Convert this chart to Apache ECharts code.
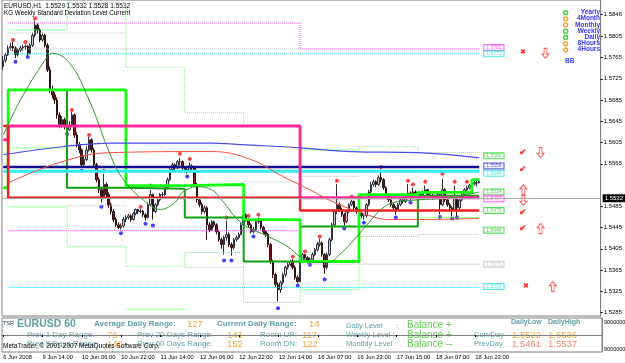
<!DOCTYPE html>
<html>
<head>
<meta charset="utf-8">
<title>EURUSD,H1</title>
<script src="https://cdn.jsdelivr.net/npm/echarts@6/dist/echarts.min.js"></script>
<style>
html, body { margin: 0; padding: 0; background: #fff; }
#chart { width: 625px; height: 363px; }
</style>
</head>
<body>
<div id="chart"></div>
<script>
// H1 bars from 6 Jun 2008 22:00, [open, close, low, high]
const bars = [
  [1.5748,1.5760,1.5742,1.5768],[1.5760,1.5770,1.5755,1.5774],[1.5770,1.5783,1.5768,1.5788],[1.5783,1.5786,1.5779,1.5792],
  [1.5786,1.5783,1.5777,1.5794],[1.5783,1.5770,1.5764,1.5786],[1.5770,1.5779,1.5767,1.5782],[1.5779,1.5783,1.5775,1.5787],
  [1.5783,1.5785,1.5778,1.5789],[1.5785,1.5786,1.5780,1.5790],[1.5786,1.5772,1.5770,1.5788],[1.5772,1.5788,1.5771,1.5792],
  [1.5788,1.5807,1.5785,1.5812],[1.5807,1.5826,1.5803,1.5835],[1.5826,1.5817,1.5810,1.5829],[1.5817,1.5798,1.5794,1.5820],
  [1.5798,1.5807,1.5795,1.5812],[1.5807,1.5788,1.5784,1.5810],[1.5788,1.5742,1.5738,1.5792],[1.5742,1.5704,1.5698,1.5748],
  [1.5704,1.5695,1.5688,1.5712],[1.5695,1.5685,1.5678,1.5700],[1.5685,1.5657,1.5650,1.5690],[1.5657,1.5638,1.5632,1.5662],
  [1.5638,1.5648,1.5633,1.5655],[1.5648,1.5638,1.5630,1.5652],[1.5638,1.5629,1.5625,1.5642],[1.5629,1.5638,1.5627,1.5645],
  [1.5638,1.5657,1.5635,1.5663],[1.5657,1.5619,1.5614,1.5660],[1.5619,1.5601,1.5596,1.5624],[1.5601,1.5591,1.5585,1.5606],
  [1.5591,1.5563,1.5557,1.5594],[1.5563,1.5573,1.5560,1.5580],[1.5573,1.5591,1.5570,1.5598],[1.5591,1.5610,1.5588,1.5616],
  [1.5610,1.5591,1.5586,1.5613],[1.5591,1.5563,1.5558,1.5595],[1.5563,1.5535,1.5530,1.5567],[1.5535,1.5516,1.5510,1.5540],
  [1.5516,1.5501,1.5492,1.5520],[1.5501,1.5526,1.5498,1.5546],[1.5526,1.5507,1.5502,1.5530],[1.5507,1.5488,1.5482,1.5511],
  [1.5488,1.5475,1.5470,1.5492],[1.5475,1.5460,1.5455,1.5480],[1.5460,1.5450,1.5446,1.5464],[1.5450,1.5445,1.5442,1.5455],
  [1.5445,1.5448,1.5441,1.5453],[1.5448,1.5460,1.5445,1.5465],[1.5460,1.5464,1.5455,1.5468],[1.5464,1.5467,1.5460,1.5471],
  [1.5467,1.5460,1.5456,1.5470],[1.5460,1.5471,1.5458,1.5474],[1.5471,1.5479,1.5468,1.5481],[1.5479,1.5475,1.5470,1.5480],
  [1.5475,1.5476,1.5472,1.5480],[1.5476,1.5469,1.5465,1.5478],[1.5469,1.5464,1.5458,1.5472],[1.5464,1.5488,1.5462,1.5492],
  [1.5488,1.5507,1.5485,1.5516],[1.5507,1.5475,1.5460,1.5509],[1.5475,1.5488,1.5472,1.5491],[1.5488,1.5497,1.5485,1.5500],
  [1.5497,1.5507,1.5494,1.5510],[1.5507,1.5507,1.5501,1.5512],[1.5507,1.5520,1.5504,1.5524],[1.5520,1.5535,1.5517,1.5539],
  [1.5535,1.5554,1.5532,1.5558],[1.5554,1.5563,1.5550,1.5567],[1.5563,1.5557,1.5553,1.5566],[1.5557,1.5569,1.5555,1.5572],
  [1.5569,1.5569,1.5562,1.5576],[1.5569,1.5557,1.5553,1.5571],[1.5557,1.5554,1.5549,1.5560],[1.5554,1.5550,1.5546,1.5558],
  [1.5550,1.5561,1.5548,1.5567],[1.5561,1.5557,1.5552,1.5564],[1.5557,1.5526,1.5522,1.5559],[1.5526,1.5497,1.5492,1.5529],
  [1.5497,1.5488,1.5483,1.5501],[1.5488,1.5475,1.5470,1.5492],[1.5475,1.5482,1.5471,1.5486],[1.5482,1.5450,1.5422,1.5485],
  [1.5450,1.5441,1.5436,1.5455],[1.5441,1.5456,1.5438,1.5459],[1.5456,1.5450,1.5445,1.5458],[1.5450,1.5437,1.5432,1.5453],
  [1.5437,1.5422,1.5418,1.5440],[1.5422,1.5413,1.5405,1.5426],[1.5413,1.5426,1.5394,1.5430],[1.5426,1.5432,1.5420,1.5458],
  [1.5432,1.5413,1.5408,1.5436],[1.5413,1.5407,1.5392,1.5417],[1.5407,1.5422,1.5404,1.5425],[1.5422,1.5426,1.5418,1.5430],
  [1.5426,1.5432,1.5423,1.5436],[1.5432,1.5450,1.5430,1.5454],[1.5450,1.5469,1.5447,1.5472],[1.5469,1.5460,1.5456,1.5472],
  [1.5460,1.5450,1.5446,1.5462],[1.5450,1.5437,1.5434,1.5453],[1.5437,1.5441,1.5434,1.5446],[1.5441,1.5456,1.5438,1.5459],
  [1.5456,1.5460,1.5452,1.5464],[1.5460,1.5445,1.5441,1.5462],[1.5445,1.5437,1.5433,1.5448],[1.5437,1.5432,1.5427,1.5440],
  [1.5432,1.5413,1.5408,1.5435],[1.5413,1.5381,1.5376,1.5416],[1.5381,1.5356,1.5350,1.5384],[1.5356,1.5338,1.5333,1.5360],
  [1.5338,1.5328,1.5306,1.5342],[1.5328,1.5341,1.5322,1.5345],[1.5341,1.5356,1.5338,1.5360],[1.5356,1.5370,1.5352,1.5373],
  [1.5370,1.5375,1.5366,1.5379],[1.5375,1.5381,1.5372,1.5384],[1.5381,1.5370,1.5366,1.5385],[1.5370,1.5351,1.5347,1.5373],
  [1.5351,1.5343,1.5341,1.5355],[1.5343,1.5381,1.5342,1.5384],[1.5381,1.5394,1.5378,1.5397],[1.5394,1.5388,1.5384,1.5395],
  [1.5388,1.5381,1.5377,1.5391],[1.5381,1.5385,1.5380,1.5389],[1.5385,1.5394,1.5383,1.5398],[1.5394,1.5403,1.5391,1.5406],
  [1.5403,1.5413,1.5400,1.5417],[1.5413,1.5416,1.5409,1.5424],[1.5416,1.5394,1.5390,1.5419],[1.5394,1.5370,1.5358,1.5397],
  [1.5370,1.5394,1.5366,1.5398],[1.5394,1.5422,1.5391,1.5426],[1.5422,1.5450,1.5419,1.5454],[1.5450,1.5475,1.5447,1.5479],
  [1.5475,1.5488,1.5470,1.5527],[1.5488,1.5479,1.5474,1.5492],[1.5479,1.5469,1.5465,1.5482],[1.5469,1.5456,1.5449,1.5472],
  [1.5456,1.5475,1.5453,1.5478],[1.5475,1.5488,1.5472,1.5491],[1.5488,1.5494,1.5485,1.5497],[1.5494,1.5482,1.5478,1.5496],
  [1.5482,1.5475,1.5471,1.5485],[1.5475,1.5471,1.5467,1.5479],[1.5471,1.5467,1.5463,1.5474],[1.5467,1.5467,1.5460,1.5470],
  [1.5467,1.5488,1.5464,1.5491],[1.5488,1.5512,1.5485,1.5516],[1.5512,1.5526,1.5509,1.5530],[1.5526,1.5531,1.5522,1.5535],
  [1.5531,1.5526,1.5521,1.5534],[1.5526,1.5539,1.5523,1.5543],[1.5539,1.5535,1.5530,1.5554],[1.5535,1.5520,1.5516,1.5538],
  [1.5520,1.5507,1.5503,1.5523],[1.5507,1.5497,1.5493,1.5510],[1.5497,1.5488,1.5484,1.5500],[1.5488,1.5482,1.5477,1.5491],
  [1.5482,1.5479,1.5469,1.5485],[1.5479,1.5488,1.5476,1.5491],[1.5488,1.5497,1.5485,1.5500],[1.5497,1.5494,1.5490,1.5501],
  [1.5494,1.5501,1.5491,1.5505],[1.5501,1.5510,1.5498,1.5527],[1.5510,1.5503,1.5497,1.5513],[1.5503,1.5512,1.5500,1.5520],
  [1.5512,1.5505,1.5501,1.5515],[1.5505,1.5501,1.5497,1.5508],[1.5501,1.5507,1.5498,1.5510],[1.5507,1.5512,1.5504,1.5515],
  [1.5512,1.5516,1.5509,1.5524],[1.5516,1.5507,1.5503,1.5518],[1.5507,1.5505,1.5501,1.5510],[1.5505,1.5501,1.5497,1.5508],
  [1.5501,1.5503,1.5498,1.5506],[1.5503,1.5507,1.5500,1.5510],[1.5507,1.5488,1.5470,1.5509],[1.5488,1.5516,1.5485,1.5537],
  [1.5516,1.5497,1.5493,1.5519],[1.5497,1.5488,1.5484,1.5500],[1.5488,1.5482,1.5478,1.5491],[1.5482,1.5479,1.5466,1.5485],
  [1.5479,1.5501,1.5476,1.5524],[1.5501,1.5482,1.5461,1.5503],[1.5482,1.5497,1.5479,1.5500],[1.5497,1.5507,1.5494,1.5510],
  [1.5507,1.5516,1.5504,1.5519],[1.5516,1.5520,1.5513,1.5524],[1.5520,1.5524,1.5517,1.5527],[1.5524,1.5527,1.5521,1.5530],
  [1.5527,1.5529,1.5524,1.5532],[1.5529,1.5529,1.5522,1.5536],[1.5529,1.5532,1.5528,1.5532]
];

const timeTicks = [0, 16, 32, 48, 64, 80, 96, 112, 128, 144, 160, 176, 192];
const timeLabels = ['6 Jun 2008', '9 Jun 14:00', '10 Jun 06:00', '10 Jun 22:00', '11 Jun 14:00', '12 Jun 06:00',
  '12 Jun 22:00', '13 Jun 14:00', '16 Jun 07:00', '16 Jun 23:00', '17 Jun 15:00', '18 Jun 07:00', '18 Jun 23:00'];
const priceTicks = [1.5285, 1.5325, 1.5365, 1.5405, 1.5445, 1.5485, 1.5565, 1.5605, 1.5645, 1.5685, 1.5725, 1.5765, 1.5805, 1.5846];
const lastPrice = 1.5532;

// moving averages, [bar, price]
const maBlue = [[0,1.5582],[24,1.5597],[44,1.5604],[85,1.5604],[97,1.5601],[121,1.5595],[142,1.5588],[169,1.5586],[194,1.5576]];
const maRed = [[2,1.5529],[24,1.5569],[44,1.5586],[85,1.5588],[101,1.5573],[114,1.5541],[125,1.5516],[135,1.5492],[146,1.5473],[157,1.5460],[169,1.5460],[194,1.5462]];
const maGreen = [[0,1.5619],[7,1.5685],[17,1.5760],[20,1.5773],[27,1.5755],[35,1.5685],[44,1.5578],[49,1.5535],[57,1.5497],[64,1.5479],
  [70,1.5492],[73,1.5511],[79,1.5522],[85,1.5516],[89,1.5497],[97,1.5454],[108,1.5428],[116,1.5409],[121,1.5390],[127,1.5379],
  [132,1.5379],[138,1.5398],[143,1.5422],[149,1.5454],[154,1.5479],[159,1.5492],[169,1.5497],[182,1.5501],[194,1.5512]];

// fractal points
const fractalUp = [[4,1.5798],[9,1.5794],[13,1.5839],[28,1.5666],[35,1.5619],[41,1.5552],[56,1.5484],[60,1.5524],[72,1.5584],[76,1.5574],
  [91,1.5464],[100,1.5467],[104,1.5469],[118,1.5390],[123,1.5400],[129,1.5428],[136,1.5533],[142,1.5503],[154,1.5559],[165,1.5533],
  [167,1.5526],[172,1.5531],[179,1.5546],[184,1.5531],[189,1.5531]];
const fractalDown = [[5,1.5757],[10,1.5766],[26,1.5621],[32,1.5552],[40,1.5484],[48,1.5434],[58,1.5452],[61,1.5449],[75,1.5541],[90,1.5383],
  [93,1.5383],[102,1.5428],[112,1.5293],[120,1.5336],[125,1.5375],[131,1.5347],[139,1.5443],[147,1.5454],[160,1.5464],[166,1.5492],
  [178,1.5465],[183,1.5462],[185,1.5464]];

// weekly levels, step points [bar, price]
const weekHigh = [[0,1.5610],[2,1.5636],[121,1.5501],[194,1.5501]];
const weekLow = [[0,1.5636],[2,1.5501],[121,1.5477],[194,1.5477]];
const navyLevel = [[0,1.5559],[194,1.5559]];
const cyanLevel = [[0,1.5551],[194,1.5551]];

// daily level pair, step points [bar, price]
const dayBright = [[0,1.5520],[2,1.5704],[50,1.5524],[74,1.5526],[98,1.5460],[121,1.5381],[145,1.5507],[169,1.5511],[191,1.5535],[194,1.5535]];
const dayDark = [[2,1.5704],[26,1.5520],[50,1.5518],[74,1.5464],[98,1.5381],[121,1.5447],[145,1.5447],[169,1.5505],[194,1.5505]];

// bar where each day starts, last entry closes the current day
const dayStarts = [2, 26, 50, 74, 98, 121, 145, 169, 194];
// daily deviation levels, one value per day (null = not drawn)
const dayGreenHi = [1.5817, 1.5868, 1.5747, 1.5661, 1.5638, 1.5591, 1.5597, 1.5586];
const dayGreenMid = [1.5595, null, null, null, null, null, null, 1.5464];
const dayGreenLo = [1.5484, 1.5409, 1.5372, 1.5398, 1.5304, 1.5328, 1.5428, 1.5432];
const dayGreenLo2 = [null, null, 1.5291, null, null, null, null, null];
const dayGrayHi = [1.5811, 1.5811, null, null, 1.5531, 1.5541, null, 1.5548];
const dayGrayLo = [null, 1.5486, null, 1.5370, null, null, null, null];

// weekly deviation levels [bar, price]
const dotCyanHi = [[2,1.5772],[194,1.5772]];
const dotCyanLo = [[2,1.5332],[194,1.5332]];
const dotPinkHi = [[2,1.5830],[121,1.5781],[194,1.5781]];
const dotPinkLo = [[2,1.5439],[121,null]];
const dotGrayWeek = [[2,1.5781],[121,null],[121,1.5376],[194,1.5376]];

// price tags at the right end of the levels [bar, price, text, colour]
const levelTags = [
  [200, 1.5784, '1.5782', '#ff40ff'], [200, 1.5772, '1.5772', '#30e0e0'], [200, 1.5580, '1.5580', '#30d030'],
  [200, 1.5561, '1.5556', '#3030c0'], [200, 1.5547, '1.5546', '#30e0e0'], [200, 1.5512, '1.5514', '#30d030'],
  [200, 1.5499, '1.5497', '#ff40ff'], [200, 1.5477, '1.5479', '#30d030'], [200, 1.5440, '1.5446', '#30d030'],
  [200, 1.5376, '1.5376', '#c0c0c0'], [200, 1.5334, '1.5332', '#30e0e0']
];

// signal glyphs [bar, price]
const checkMarks = [[212,1.5586],[212,1.5554],[212,1.5473],[212,1.5443]];
const crossMarks = [[212,1.5775],[213,1.5334]];
const upArrows = [[212,1.5516],[219,1.5443],[224,1.5334]];
const downArrows = [[221,1.5773],[219,1.5586],[212,1.5496]];

const slots = 244;
const labelAt = {};
timeTicks.forEach((t, k) => { labelAt[t] = timeLabels[k]; });
const cats = [];
for (let i = 0; i < slots; i++) cats.push(String(i));

function daySteps(values) {
  const pts = [];
  values.forEach((v, d) => {
    if (v === null) return;
    pts.push([dayStarts[d], v], [dayStarts[d + 1], v]);
    if (d + 1 >= values.length || values[d + 1] === null) pts.push([dayStarts[d + 1], null]);
  });
  return pts;
}

const chart = echarts.init(document.getElementById('chart'));

function stepLine(name, data, color, width, type) {
  return {
    name: name, type: 'line', data: data, step: 'end', symbol: 'none', silent: true,
    lineStyle: { color: color, width: width, type: type || 'solid' }
  };
}

function smoothLine(name, data, color, width) {
  return {
    name: name, type: 'line', data: data, smooth: 0.4, symbol: 'none', silent: true,
    lineStyle: { color: color, width: width }
  };
}

function glyphSeries(data, text, size) {
  return {
    type: 'scatter', data: data, symbolSize: 0, silent: true,
    label: { show: true, position: 'inside', formatter: text, color: '#ff0000', fontSize: size, fontWeight: 'bold' }
  };
}

const arrowPath = 'path://M5,0 L10,5 L7,5 L7,12 L3,12 L3,5 L0,5 Z';

const font = 'Liberation Sans';
const teal = '#5fa0a8';
const orange = '#f5a640';
const green = '#66cc55';

function txt(x, y, s, color, size, weight) {
  return { type: 'text', left: x, top: y, silent: true,
    style: { text: s, fill: color, font: (weight || 'normal') + ' ' + size + 'px ' + font } };
}

const legendRows = [['Yearly', '#33cc33'], ['4Month', '#ff9a20'], ['Monthly', '#ff9a20'], ['Weekly', '#33cc33'],
  ['Daily', '#33cc33'], ['8Hours', '#ff9a20'], ['4Hours', '#ff9a20']];

const graphics = [
  txt(4, 3, 'EURUSD,H1  1.5529 1.5532 1.5528 1.5532', '#000', 6.5),
  txt(4, 10, 'KG Weekly Standard Deviation Level Current', '#000', 6.3),
  txt(565, 58, 'BB', '#4040ff', 6.5, 'bold'),
  txt(3, 320, 'TSR', '#203040', 5.5),
  txt(17, 319, 'EURUSD 60', teal, 10.5, 'bold'),
  txt(94, 320, 'Average Daily Range:', teal, 8, 'bold'),
  txt(187, 319, '127', orange, 9.5),
  txt(217, 320, 'Current Daily Range:', teal, 8, 'bold'),
  txt(309, 319, '14', orange, 9.5),
  txt(27, 331, 'Prev 1 Day Range:', teal, 8),
  txt(107, 330, '76', orange, 9.5),
  txt(27, 340, 'Prev 5 Days Range:', teal, 8),
  txt(107, 339, '140', orange, 9.5),
  txt(137, 331, 'Prev 20 Days Range:', teal, 8),
  txt(227, 330, '141', orange, 9.5),
  txt(137, 340, 'Prev 60 Days Range:', teal, 8),
  txt(227, 339, '152', orange, 9.5),
  txt(260, 331, 'Room UP:', teal, 8),
  txt(302, 330, '117', orange, 9.5),
  txt(260, 340, 'Room DN:', teal, 8),
  txt(302, 339, '122', orange, 9.5),
  txt(346, 322, 'Daily Level', teal, 7.5),
  txt(396, 322, ':', teal, 7.5),
  txt(407, 320, 'Balance +', green, 10),
  txt(346, 331, 'Weekly Level :', teal, 7.5),
  txt(407, 330, 'Balance +', green, 10),
  txt(346, 340, 'Monthly Level :', teal, 7.5),
  txt(407, 339, 'Balance --', green, 10),
  txt(511, 319, 'DailyLow', teal, 7, 'bold'),
  txt(548, 319, 'DailyHigh', teal, 7, 'bold'),
  txt(474, 331, 'Curr/Day', teal, 7.5),
  txt(512, 330, '1.5522', orange, 9.5),
  txt(548, 330, '1.5536', orange, 9.5),
  txt(474, 340, 'PrevDay', teal, 7.5),
  txt(512, 339, '1.5461', '#f08070', 9.5),
  txt(548, 339, '1.5537', '#f08070', 9.5),
  txt(3, 343, 'MetaTrader, \u00a9 2001-2007 MetaQuotes Software Corp.', '#000', 6.5),
  txt(604, 319, '9000000', '#000', 5.5),
  txt(604, 346, '9000000', '#000', 5.5)
];
legendRows.forEach((r, k) => {
  graphics.push({ type: 'text', right: 25, top: 9 + k * 6.2, silent: true,
    style: { text: r[0], fill: '#3838ff', font: 'bold 6.5px ' + font } });
  graphics.push({ type: 'circle', left: 563, top: 10 + k * 6.2, silent: true,
    shape: { r: 2 }, style: { fill: '#fff', stroke: r[1], lineWidth: 1.3 } });
});

const series = [
  stepLine('dotCyanHi', dotCyanHi, '#40e8e8', 1, 'dotted'),
  stepLine('dotCyanLo', dotCyanLo, '#40e8e8', 1, 'dotted'),
  stepLine('dotPinkHi', dotPinkHi, '#ff50ff', 1, 'dotted'),
  stepLine('dotPinkLo', dotPinkLo, '#ff50ff', 1, 'dotted'),
  stepLine('dotGrayWeek', dotGrayWeek, '#bcbcbc', 1, 'dotted'),
  stepLine('dayGrayHi', daySteps(dayGrayHi), '#c4c4c4', 1, 'dotted'),
  stepLine('dayGrayLo', daySteps(dayGrayLo), '#c4c4c4', 1, 'dotted'),
  stepLine('dayGreenHi', daySteps(dayGreenHi), '#60ff60', 1, 'dotted'),
  stepLine('dayGreenMid', daySteps(dayGreenMid), '#60ff60', 1, 'dotted'),
  stepLine('dayGreenLo', daySteps(dayGreenLo), '#60ff60', 1, 'dotted'),
  stepLine('dayGreenLo2', daySteps(dayGreenLo2), '#60ff60', 1, 'dotted'),
  stepLine('dayDark', dayDark, '#12a012', 2),
  stepLine('dayBright', dayBright, '#14ff14', 2.8),
  stepLine('navy', navyLevel, '#101090', 2.5),
  stepLine('cyan', cyanLevel, '#30f0f0', 3),
  stepLine('weekHigh', weekHigh, '#ff2a9a', 3),
  stepLine('weekLow', weekLow, '#f02020', 2.5),
  smoothLine('maBlue', maBlue, '#4b4bf0', 1.2),
  smoothLine('maRed', maRed, '#f05040', 1),
  smoothLine('maGreen', maGreen, '#2e9a2e', 1),
  {
    name: 'EURUSD', type: 'candlestick', data: bars, barWidth: 2,
    itemStyle: { color: '#c8c8d0', color0: '#7a1010', borderColor: '#303040', borderColor0: '#301010', borderWidth: 1 },
    markLine: {
      silent: true, symbol: 'none', animation: false,
      lineStyle: { color: '#a8a8a8', width: 1, type: 'solid' },
      label: { position: 'end', formatter: lastPrice.toFixed(4), backgroundColor: '#000', color: '#fff',
        fontSize: 6, fontFamily: font, padding: [1, 2], distance: 2 },
      data: [{ yAxis: lastPrice }]
    }
  },
  {
    name: 'fractalUp', type: 'scatter', data: fractalUp, symbolSize: 4, silent: true,
    itemStyle: { color: '#ff1010' }
  },
  {
    name: 'fractalDown', type: 'scatter', data: fractalDown, symbolSize: 4, silent: true,
    itemStyle: { color: '#1010ff' }
  },
  {
    name: 'tags', type: 'scatter', symbolSize: 0, silent: true,
    data: levelTags.map(t => ({ value: t, label: { color: t[3], borderColor: t[3] } })),
    label: {
      show: true, position: 'inside', fontSize: 5, fontFamily: font, padding: [0, 2],
      backgroundColor: '#fff', borderWidth: 1, formatter: p => p.value[2]
    }
  },
  glyphSeries(checkMarks, '\u2714', 9),
  glyphSeries(crossMarks, '\u2716', 7),
  {
    type: 'scatter', data: upArrows, symbol: arrowPath, symbolSize: [7, 10], silent: true,
    itemStyle: { color: '#fff', borderColor: '#ff3030', borderWidth: 1 }
  },
  {
    type: 'scatter', data: downArrows, symbol: arrowPath, symbolSize: [7, 10], symbolRotate: 180, silent: true,
    itemStyle: { color: '#fff', borderColor: '#ff3030', borderWidth: 1 }
  }
];

chart.setOption({
  animation: false,
  backgroundColor: '#ffffff',
  textStyle: { fontFamily: font },
  grid: [
    { left: 2, right: 23, top: 0, bottom: 47, show: true, borderColor: '#808080', borderWidth: 1, backgroundColor: '#fff' },
    { left: 2, right: 23, top: 318, bottom: 11, show: true, borderColor: '#808080', borderWidth: 1, backgroundColor: '#fff' }
  ],
  xAxis: [
    { type: 'category', gridIndex: 0, data: cats, boundaryGap: true,
      axisLine: { show: false }, axisTick: { show: false }, axisLabel: { show: false }, splitLine: { show: false } },
    { type: 'category', gridIndex: 1, data: cats, boundaryGap: true,
      axisLine: { show: true, lineStyle: { color: '#808080' } },
      axisTick: { show: true, alignWithLabel: true, length: 2, interval: i => labelAt[i] !== undefined, lineStyle: { color: '#000' } },
      axisLabel: { show: true, interval: i => labelAt[i] !== undefined, formatter: (v, i) => labelAt[i] || '',
        fontSize: 5.8, color: '#000', align: 'left', margin: 2, fontFamily: font },
      splitLine: { show: false } }
  ],
  yAxis: [
    { type: 'value', gridIndex: 0, position: 'right', min: 1.52784, max: 1.58733,
      axisLine: { show: true, lineStyle: { color: '#808080' } },
      axisTick: { show: true, length: 2, customValues: priceTicks, lineStyle: { color: '#000' } },
      axisLabel: { show: true, customValues: priceTicks, formatter: v => v.toFixed(4), fontSize: 6, color: '#000', margin: 3, fontFamily: font },
      splitLine: { show: false } },
    { type: 'value', gridIndex: 1, position: 'right', min: -1, max: 1,
      axisLine: { show: true, lineStyle: { color: '#808080' } },
      axisTick: { show: false }, axisLabel: { show: false }, splitLine: { show: false } }
  ],
  series: series,
  graphic: graphics
});
</script>
</body>
</html>
